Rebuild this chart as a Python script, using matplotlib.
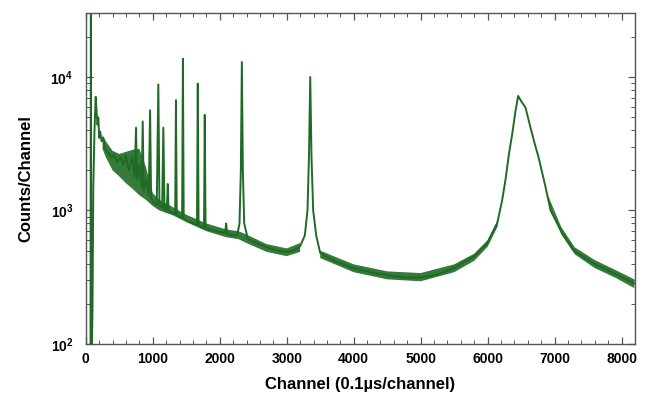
import numpy as np
import matplotlib
matplotlib.use("Agg")
import matplotlib.pyplot as plt
from matplotlib.ticker import MultipleLocator, LogLocator

plt.rcParams['font.family'] = ['Liberation Sans', 'DejaVu Sans']
plt.rcParams['font.weight'] = 'bold'
plt.rcParams['mathtext.fontset'] = 'custom'
plt.rcParams['mathtext.rm'] = 'Liberation Sans:bold'
plt.rcParams['mathtext.it'] = 'Liberation Sans:bold:italic'
plt.rcParams['mathtext.bf'] = 'Liberation Sans:bold'

# spectrum vertices (channel, counts)
chan = [70, 76, 82, 100, 112, 130, 148, 160, 175, 187, 200, 215, 235, 260, 290,
        337, 380, 420, 470, 520, 560, 600, 640, 690, 730, 750, 765, 800, 835,
        850, 865, 900, 940, 960, 975, 1010, 1060, 1083, 1100, 1140, 1158, 1175,
        1210, 1224, 1236, 1300, 1335, 1346, 1358, 1400, 1438, 1450, 1462, 1520,
        1600, 1660, 1672, 1684, 1765, 1776, 1788, 1900, 2000, 2080, 2096, 2110,
        2200, 2260, 2295, 2315, 2330, 2345, 2365, 2420, 2550, 2700, 2850, 3000,
        3100, 3200, 3270, 3310, 3332, 3351, 3370, 3395, 3440, 3500, 3700, 4000,
        4300, 4744, 5000, 5245, 5490, 5640, 5790, 5990, 6142, 6216, 6266, 6320,
        6366, 6416, 6455, 6500, 6565, 6640, 6700, 6760, 6864, 6940, 7090, 7283,
        7580, 7880, 8190]
counts = [50, 60000, 50, 176, 1500, 4000, 7100, 5600, 4400, 4970, 3500, 3900,
          3300, 3500, 2900, 2700, 2500, 2600, 2300, 2500, 2200, 2600, 2000, 2500,
          1800, 4170, 1700, 2200, 1500, 4650, 1400, 1700, 1300, 5640, 1250, 1150,
          1100, 8800, 1080, 1050, 4170, 1030, 1000, 1580, 990, 960, 940, 6700, 930,
          900, 880, 13700, 870, 830, 800, 780, 8920, 770, 740, 5200, 730, 710, 690,
          680, 800, 670, 650, 650, 800, 2000, 12960, 2000, 800, 610, 570, 530, 500,
          490, 500, 540, 650, 1000, 2500, 10000, 2500, 1000, 650, 480, 420, 370,
          340, 315, 315, 330, 370, 410, 450, 567, 800, 1190, 1700, 2700, 3720,
          5570, 7210, 6600, 5900, 4170, 3200, 2500, 1500, 1000, 710, 502, 402, 339,
          285]

# noise band of the continuum (lower / upper edge)
band_ch = [250, 300, 400, 500, 600, 700, 800, 900, 1000, 1100, 1300, 1500, 1800,
           2100, 2280, 2400, 2700, 3000, 3200, 3300, 3420, 3500, 4000, 4500, 5000,
           5500, 5800, 6000, 6150, 6200, 6850, 6900, 7100, 7300, 7600, 7900, 8190]
band_lo = [2900, 2500, 2000, 1800, 1600, 1450, 1300, 1200, 1080, 1000, 920, 820,
           700, 630, 610, 570, 490, 455, 490, np.nan, np.nan, 440, 345, 305, 295,
           345, 420, 535, 760, np.nan, np.nan, 1150, 660, 470, 370, 315, 262]
band_hi = [3700, 3300, 2800, 2650, 2750, 2850, 2900, 2100, 1350, 1200, 1060, 930,
           800, 720, 700, 660, 560, 520, 570, np.nan, np.nan, 500, 395, 350, 340,
           395, 475, 600, 850, np.nan, np.nan, 1300, 750, 530, 425, 360, 305]

green = '#1f6b25'

fig = plt.figure(figsize=(6.46, 4.03), dpi=100)
ax = fig.add_axes([0.1328, 0.1464, 0.8502, 0.8206])

ax.fill_between(band_ch, band_lo, band_hi, color=green, lw=0, alpha=0.9)
ax.plot(chan, counts, color=green, lw=1.4)

ax.set_yscale('log')
ax.set_xlim(0, 8200)
ax.set_ylim(100, 3e4)

ax.xaxis.set_major_locator(MultipleLocator(1000))
ax.xaxis.set_minor_locator(MultipleLocator(200))
ax.yaxis.set_major_locator(LogLocator(base=10))
ax.yaxis.set_minor_locator(LogLocator(base=10, subs=np.arange(2, 10)))

ax.tick_params(which='both', direction='in', top=True, right=True,
               color='#555555', labelsize=10)
ax.tick_params(axis='x', which='major', pad=6)
ax.tick_params(axis='y', which='major', pad=9)
ax.tick_params(which='major', length=5, width=0.9)
ax.tick_params(which='minor', length=3, width=0.7)
for s in ax.spines.values():
    s.set_color('#555555')
    s.set_linewidth(1.0)

ax.set_xlabel('Channel (0.1µs/channel)', fontsize=12, fontweight='bold', labelpad=8)
ax.set_ylabel('Counts/Channel', fontsize=12, fontweight='bold', labelpad=12)

fig.savefig('out.png', dpi=100)
